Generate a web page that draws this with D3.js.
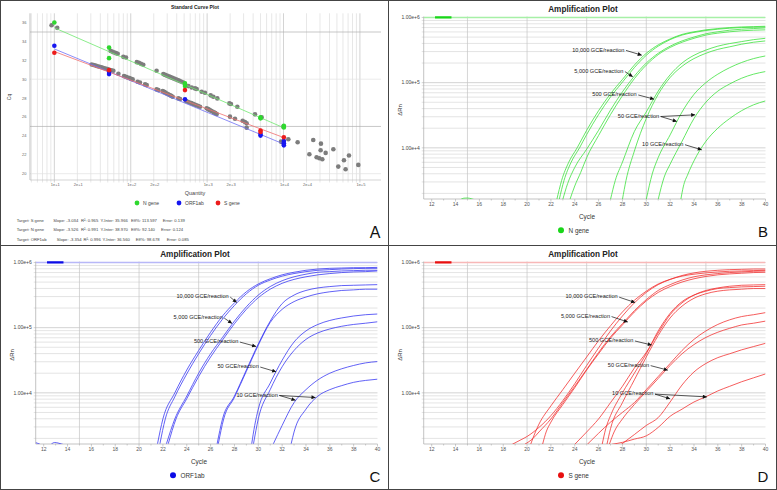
<!DOCTYPE html>
<html><head><meta charset="utf-8">
<script src="https://cdn.jsdelivr.net/npm/d3@7"></script>
<style>body{margin:0;background:#fff}svg{display:block}text{font-family:"Liberation Sans",Arial,sans-serif}</style>
</head><body><svg id="c" width="777" height="490"></svg>
<script>
// ---------------- Panel A data ----------------
const quantityDomain = [4.8, 188800];
const cqDomain = [19.33, 36.98];
const quantityTicks = [10, 20, 100, 200, 1000, 2000, 10000, 20000, 100000];
const quantityTickLabels = ['1e+1','2e+1','1e+2','2e+2','1e+3','2e+3','1e+4','2e+4','1e+5'];
const cqTicks = [20, 22, 24, 26, 28, 30, 32, 34, 36];
const cqGrid = [20, 25, 30, 35];
const targets = ['N gene', 'ORF1ab', 'S gene'];
const slopes = [-3.526, -3.354, -3.034];
const intercepts = [38.970, 36.560, 35.966];
const fitRange = [10, 10000];
const nGeneStd = [[10,36.0],[52,33.35],[52,32.23],[513,29.56],[513,29.27],[5000,25.96],[5000,25.86],[10100,25.08],[10100,24.9]];
const orf1abStd = [[10,33.54],[52,30.79],[52,30.54],[513,27.87],[5000,24.2],[5000,24.03],[10100,23.46],[10100,23.22],[10100,23.0]];
const sGeneStd = [[10,32.8],[52,30.96],[513,28.85],[5000,24.56],[5000,24.42],[10100,23.85]];
const otherSamples = [
 [9.2,35.72],[10.9,35.44],[54.6,33.0],[58,32.9],[61,32.83],[64,32.76],[67.5,32.69],[80,32.37],[86.7,32.3],
 [120,31.81],[128,31.74],[136,31.63],[146,31.53],[218,30.89],
 [267,30.54],[282,30.46],[298,30.38],[315,30.3],[332,30.22],[351,30.14],[370,30.06],[391,29.98],[413,29.9],[436,29.82],[461,29.74],[487,29.66],
 [567,29.27],[628,29.13],[694,29.03],[730,28.96],[848,28.68],[937,28.57],[1112,28.29],[1205,28.15],[1360,27.97],
 [1954,27.44],[2050,27.37],[2483,27.09],[4233,26.28],[5177,25.96],[9940,24.98],
 [30.8,31.56],[32.7,31.5],[34.7,31.44],[36.8,31.38],[39.1,31.32],[41.5,31.26],[44,31.19],[46.7,31.13],[49.6,31.07],[52.6,31.01],[55.8,30.95],[59.2,30.89],
 [68.9,30.58],[81.7,30.33],[86.7,30.26],[91,30.19],[96,30.12],[101,30.05],[106,29.98],[123,29.73],[132,29.66],[154,29.45],[162,29.38],
 [218,28.92],[230,28.85],[262,28.75],[273,28.66],[284,28.58],[296,28.49],[309,28.41],[324,28.32],[339,28.24],[354,28.15],[420,27.97],[442,27.9],
 [528,27.69],[557,27.615],[587,27.54],[619,27.465],[653,27.39],[688,27.315],[726,27.24],[765,27.165],[807,27.09],
 [986,26.92],[1030,26.83],[1076,26.75],[1124,26.66],[1174,26.58],[1226,26.49],[1280,26.41],[1334,26.32],
 [1990,26.04],[2316,25.82],[2918,25.61],[3130,25.47],[3290,25.33],[3290,24.87],[9270,23.39],[9750,23.29],[11560,23.64],[15300,23.32],
 [21800,22.06],[24500,23.57],[27100,21.74],[29400,21.63],[30600,22.48],[30900,23.18],[32200,21.53],[35600,22.2],[44900,22.58],
 [52100,20.75],[61800,21.42],[65000,20.47],[71900,21.92],[95300,20.93]
];
const statsRows = [
 ['Target: S gene','Slope: -3.034','R\u00b2: 0.965','Y-Inter: 35.966','Eff%: 113.597','Error: 0.139'],
 ['Target: N gene','Slope: -3.526','R\u00b2: 0.991','Y-Inter: 38.970','Eff%: 92.140','Error: 0.124'],
 ['Target: ORF1ab','Slope: -3.354','R\u00b2: 0.996','Y-Inter: 36.560','Eff%: 98.678','Error: 0.085']
];

// ---------------- Amplification data ----------------
const cycleDomain = [11.33, 40];
const deltaRnDomain = [1641, 1035000];
const cycleTicks = [12,14,16,18,20,22,24,26,28,30,32,34,36,38,40];
const cycleGrid = [15,20,25,30,35];
const deltaRnTicks = [1e4, 1e5, 1e6];
const deltaRnTickLabels = ['1.00e+4','1.00e+5','1.00e+6'];
const thresholdValue = 1e6;
const thresholdBar = [12.28, 13.66];

const nGeneCurves = [
 [[22.5,1620],[22.9,3160],[23.5,6030],[24.2,10000],[25,18600],[26,37200],[27,67600],[28,112000],[29,186000],[30,282000],[31,380000],[32,468000],[33,550000],[34,603000],[35,646000],[36,676000],[37,700000],[38,716000],[39,724000],[40,733000]],
 [[22.7,1620],[23.1,3160],[23.7,6030],[24.4,10000],[25,16000],[26,32400],[27,60300],[28,102000],[29,170000],[30,263000],[31,363000],[32,457000],[33,537000],[34,589000],[35,631000],[36,661000],[37,684000],[38,700000],[39,708000],[40,716000]],
 [[23.0,1620],[23.4,2820],[24,5010],[25,9550],[26,18600],[27,38000],[28,72400],[29,126000],[30,200000],[31,282000],[32,363000],[33,437000],[34,501000],[35,562000],[36,603000],[37,638000],[38,661000],[39,676000],[40,692000]],
 [[23.6,1620],[24,2600],[24.5,4200],[25,7080],[26,15500],[27,32400],[28,63100],[29,115000],[30,186000],[31,269000],[32,347000],[33,417000],[34,479000],[35,537000],[36,575000],[37,603000],[38,625000],[39,638000],[40,646000]],
 [[27.0,1620],[27.4,3160],[28,6030],[29,17800],[30,35500],[31,74100],[32,132000],[33,200000],[34,263000],[35,316000],[36,363000],[37,398000],[38,427000],[39,457000],[40,479000]],
 [[28.0,1620],[28.3,3160],[29,8910],[30,28200],[31,66100],[32,120000],[33,178000],[34,234000],[35,282000],[36,324000],[37,355000],[38,389000],[39,417000],[40,437000]],
 [[30.0,1620],[30.5,3980],[31,7080],[32,15800],[33,35500],[34,66100],[35,100000],[36,135000],[37,170000],[38,204000],[39,234000],[40,257000]],
 [[31.0,1620],[31.5,3550],[32,5620],[33,12600],[34,28200],[35,50100],[36,74100],[37,95500],[38,117000],[39,135000],[40,148000]],
 [[32.9,1620],[33.1,2510],[33.5,3980],[34,6310],[35,12600],[36,20000],[37,28200],[38,37200],[39,45700],[40,52500]]
];
const nGeneNoise = [[[14.4,1600],[14.7,1690],[15.0,1700],[15.3,1660],[15.6,1600]]];

const orf1abCurves = [
 [[21.55,1660],[22,3980],[23,10000],[24,22400],[25,44700],[26,85100],[27,151000],[28,240000],[29,355000],[30,468000],[31,562000],[32,646000],[33,708000],[34,759000],[35,794000],[36,813000],[37,822000],[38,832000],[39,832000],[40,841000]],
 [[21.75,1660],[22.2,3980],[23,8710],[24,19500],[25,39800],[26,75900],[27,135000],[28,219000],[29,331000],[30,447000],[31,537000],[32,617000],[33,676000],[34,724000],[35,759000],[36,776000],[37,794000],[38,804000],[39,813000],[40,813000]],
 [[22.3,1660],[23,3980],[24,8910],[25,20000],[26,39800],[27,70800],[28,126000],[29,209000],[30,316000],[31,427000],[32,525000],[33,603000],[34,661000],[35,708000],[36,724000],[37,741000],[38,750000],[39,759000],[40,759000]],
 [[22.45,1660],[23.1,3980],[24,8130],[25,17800],[26,35500],[27,64600],[28,115000],[29,191000],[30,288000],[31,389000],[32,479000],[33,550000],[34,603000],[35,646000],[36,676000],[37,700000],[38,716000],[39,724000],[40,741000]],
 [[26.55,1660],[27,3980],[28,8910],[29,22400],[30,56200],[31,126000],[32,234000],[33,316000],[34,372000],[35,407000],[36,427000],[37,442000],[38,447000],[39,452000],[40,457000]],
 [[26.65,1660],[27.1,3980],[28,8510],[29,21400],[30,53700],[31,120000],[32,191000],[33,251000],[34,295000],[35,331000],[36,355000],[37,372000],[38,380000],[39,389000],[40,389000]],
 [[29.45,1660],[29.7,3160],[30,5620],[31,14100],[32,31600],[33,60300],[34,89100],[35,112000],[36,129000],[37,141000],[38,151000],[39,158000],[40,162000]],
 [[29.6,1660],[30,3980],[31,11200],[32,25100],[33,44700],[34,66100],[35,83200],[36,95500],[37,105000],[38,112000],[39,117000],[40,123000]],
 [[31.27,1660],[32,3160],[33,7080],[34,11200],[35,15800],[36,20000],[37,23400],[38,26300],[39,28800],[40,30200]],
 [[32.76,1660],[33,2510],[34,5620],[35,8910],[36,11200],[37,12900],[38,14500],[39,15500],[40,16200]]
];
const orf1abNoise = [[[11.33,1720],[11.5,1680],[11.7,1620]], [[12.6,1600],[12.9,1730],[13.2,1700],[13.5,1640],[13.7,1600]]];

const sGeneCurves = [
 [[18.75,1620],[19.5,1910],[20,2140],[21,2950],[22,4470],[23,7590],[24,13800],[25,26300],[26,49000],[27,89100],[28,151000],[29,240000],[30,347000],[31,457000],[32,550000],[33,631000],[34,692000],[35,733000],[36,759000],[37,776000],[38,785000],[39,794000],[40,794000]],
 [[20.3,1620],[20.7,2510],[21,3310],[22,6310],[23,11200],[24,20000],[25,35500],[26,63100],[27,107000],[28,174000],[29,263000],[30,363000],[31,468000],[32,550000],[33,617000],[34,661000],[35,692000],[36,716000],[37,733000],[38,741000],[39,750000],[40,759000]],
 [[19.8,1620],[20.5,2000],[21,2510],[22,3980],[23,7080],[24,12600],[25,22900],[26,41700],[27,72400],[28,115000],[29,182000],[30,269000],[31,372000],[32,457000],[33,537000],[34,603000],[35,646000],[36,676000],[37,700000],[38,716000],[39,733000],[40,741000]],
 [[21.3,1620],[21.6,2510],[22,3550],[23,6610],[24,12000],[25,22400],[26,39800],[27,69200],[28,110000],[29,174000],[30,257000],[31,347000],[32,427000],[33,501000],[34,562000],[35,610000],[36,646000],[37,668000],[38,684000],[39,700000],[40,708000]],
 [[24,1620],[25,2510],[26,3980],[27,7080],[28,12600],[29,24000],[30,41700],[31,83200],[32,158000],[33,240000],[34,316000],[35,372000],[36,407000],[37,432000],[38,447000],[39,452000],[40,457000]],
 [[26.3,1620],[26.6,2820],[27,4470],[28,10000],[29,20000],[30,39800],[31,89100],[32,166000],[33,251000],[34,316000],[35,363000],[36,398000],[37,412000],[38,422000],[39,427000],[40,432000]],
 [[26.7,1620],[27,2820],[28,7080],[29,15800],[30,35500],[31,75900],[32,141000],[33,214000],[34,282000],[35,331000],[36,363000],[37,380000],[38,389000],[39,398000],[40,398000]],
 [[25.05,1620],[26,2400],[27,3550],[28,5010],[29,7080],[30,11200],[31,17800],[32,28200],[33,44700],[34,66100],[35,89100],[36,112000],[37,132000],[38,148000],[39,158000],[40,170000]],
 [[26.9,1620],[27.3,2510],[28,3980],[29,6610],[30,10500],[31,16600],[32,26300],[33,39800],[34,55000],[35,70800],[36,85100],[37,97700],[38,110000],[39,117000],[40,126000]],
 [[27.9,1620],[29,2290],[30,3160],[31,4170],[32,7240],[33,13200],[34,20900],[35,28200],[36,34700],[37,39800],[38,45700],[39,51300],[40,57500]],
 [[27.1,1620],[28,1740],[29,1950],[30,2190],[31,2950],[32,4370],[33,5620],[34,7240],[35,8710],[36,10700],[37,12600],[38,14800],[39,17000],[40,19500]]
];
const sGeneNoise = [];

const dilutionLabels = ['10,000 GCE/reaction','5,000 GCE/reaction','500 GCE/reaction','50 GCE/reaction','10 GCE/reaction'];
const nGeneNotes = [[28.17,319000,[[29.62,264000]]],[28.08,151000,[[28.87,123000]]],[29.2,66100,[[30.66,55800]]],[31.08,30900,[[34.1,32100],[32.56,25400]]],[33.12,11400,[[34.66,9310]]]];
const orf1abNotes = [[27.52,301000,[[28.19,243000]]],[27.02,143000,[[27.8,116000]]],[28.33,61400,[[29.82,51400]]],[30.04,25400,[[31.5,21000]]],[31.64,9310,[[33.12,7710],[34.8,8470]]]];
const sGeneNotes = [[27.6,300000,[[29.06,243000]]],[26.96,151000,[[28.45,122000]]],[28.92,63800,[[30.46,54100]]],[30.24,26700,[[31.81,22300]]],[30.6,9770,[[32.0,8090],[35.08,8670]]]];

// ---------------- Drawing ----------------
const svg = d3.select('#c');
const defs = svg.append('defs');
defs.append('marker').attr('id','arr').attr('viewBox','0 0 10 10').attr('refX',10).attr('refY',5)
  .attr('markerWidth',5).attr('markerHeight',4).attr('markerUnits','userSpaceOnUse').attr('orient','auto')
  .append('path').attr('d','M0,0L10,5L0,10Z').attr('fill','#111');

// borders
svg.append('rect').attr('x',0.5).attr('y',0.5).attr('width',776).attr('height',489).attr('fill','none').attr('stroke','#444');
svg.append('line').attr('x1',388.5).attr('x2',388.5).attr('y1',0).attr('y2',490).attr('stroke','#444');
svg.append('line').attr('x1',0).attr('x2',777).attr('y1',245.5).attr('y2',245.5).attr('stroke','#444');

// ---- Panel A ----
(function(){
  const g = svg.append('g');
  const L=30,R=381,T=13.3,B=180;
  const x = d3.scaleLog().domain(quantityDomain).range([L,R]);
  const y = d3.scaleLinear().domain(cqDomain).range([B,T]);
  g.append('text').attr('x',195).attr('y',9).attr('text-anchor','middle').attr('font-size',5).attr('font-weight','bold').attr('fill','#222').text('Standard Curve Plot');
  const xt = x.ticks();
  g.selectAll('.vg').data(xt).join('line').attr('x1',d=>x(d)).attr('x2',d=>x(d)).attr('y1',T).attr('y2',B+2.5)
    .attr('stroke',d=>Math.abs(Math.log10(d)%1)<1e-9?'#b5b5b5':'#d6d6d6').attr('stroke-width',0.6);
  g.selectAll('.hg').data(cqGrid).join('line').attr('x1',L).attr('x2',R).attr('y1',d=>y(d)).attr('y2',d=>y(d))
    .attr('stroke',d=>d%10===5?'#b0b0b0':'#e2e2e2').attr('stroke-width',0.7);
  g.append('line').attr('x1',L).attr('x2',L).attr('y1',T).attr('y2',B).attr('stroke','#999').attr('stroke-width',0.6);
  g.append('line').attr('x1',L).attr('x2',R).attr('y1',B).attr('y2',B).attr('stroke','#bbb').attr('stroke-width',0.6);
  g.selectAll('.yl').data(cqTicks).join('text').attr('x',L-3.5).attr('y',d=>y(d)+1.4).attr('text-anchor','end').attr('font-size',4).attr('fill','#666').text(d=>d);
  g.selectAll('.xl').data(quantityTicks).join('text').attr('x',d=>x(d)+1).attr('y',B+5.5).attr('text-anchor','middle').attr('font-size',4).attr('fill','#666').text((d,i)=>quantityTickLabels[i]);
  g.append('text').attr('x',195).attr('y',194.5).attr('text-anchor','middle').attr('font-size',5.5).attr('fill','#444').text('Quantity');
  g.append('text').attr('transform','translate(11,97) rotate(-90)').attr('text-anchor','middle').attr('font-size',5).attr('fill','#444').text('Cq');
  g.selectAll('.gp').data(otherSamples).join('circle').attr('cx',d=>x(d[0])).attr('cy',d=>y(d[1])).attr('r',2.3).attr('fill','#7d7d7d');
  const lineCols = ['#70e870','#6f6ff5','#f07070'];
  const ptCols = ['#2fd82f','#1616f0','#ec1c1c'];
  const stdSets = [nGeneStd, orf1abStd, sGeneStd];
  targets.forEach((t,i)=>{
    const pts = fitRange.map(q=>[q, intercepts[i]+slopes[i]*Math.log10(q)]);
    g.append('line').attr('x1',x(pts[0][0])).attr('y1',y(pts[0][1])).attr('x2',x(pts[1][0])).attr('y2',y(pts[1][1]))
      .attr('stroke',lineCols[i]).attr('stroke-width',0.8);
  });
  targets.forEach((t,i)=>{
    g.selectAll('.sp'+i).data(stdSets[i]).join('circle').attr('cx',d=>x(d[0])).attr('cy',d=>y(d[1])).attr('r',2.3).attr('fill',ptCols[i]);
  });
  const legX = [137,179,218];
  targets.forEach((t,i)=>{
    g.append('circle').attr('cx',legX[i]).attr('cy',203).attr('r',2.4).attr('fill',ptCols[i]);
    g.append('text').attr('x',legX[i]+6).attr('y',204.8).attr('font-size',5).attr('fill','#444').text(t);
  });
  const colX = [[16.7,53.3,81,100.5,131,162.7],[16.7,53.3,81,100.5,131,161],[16.7,56.7,83.5,102.5,135.7,166.7]];
  const rowY = [222.3,231.3,240.5];
  statsRows.forEach((row,r)=>{
    row.forEach((s,c)=>{
      g.append('text').attr('x',colX[r][c]).attr('y',rowY[r]).attr('font-size',4.2).attr('fill','#444').text(s);
    });
  });
  g.append('text').attr('x',375).attr('y',237.5).attr('text-anchor','middle').attr('font-size',16).attr('fill','#111').text('A');
})();

// ---- Amplification panels ----
function ampPanel(ox, oy, curves, noise, notes, color, light, dark, legendLabel, letter, id){
  const g = svg.append('g').attr('transform',`translate(${ox},${oy})`);
  const L=35.7,R=377.5,T=16.5,B=199;
  const x = d3.scaleLinear().domain(cycleDomain).range([L,R]);
  const y = d3.scaleLog().domain(deltaRnDomain).range([B,T]);
  g.append('text').attr('x',195).attr('y',12.3).attr('text-anchor','middle').attr('font-size',8.2).attr('font-weight','bold').attr('fill','#222').text('Amplification Plot');
  const yt = y.ticks();
  g.selectAll('.hg').data(yt).join('line').attr('x1',L-2).attr('x2',R).attr('y1',d=>y(d)).attr('y2',d=>y(d))
    .attr('stroke',d=>Math.abs(Math.log10(d)%1)<1e-9?'#c0c0c0':'#d8d8d8').attr('stroke-width',0.7);
  g.selectAll('.vg').data(cycleGrid).join('line').attr('x1',d=>x(d)).attr('x2',d=>x(d)).attr('y1',T).attr('y2',B)
    .attr('stroke','#c4c4c4').attr('stroke-width',0.7);
  g.selectAll('.xt').data(d3.range(12,41)).join('line').attr('x1',d=>x(d)).attr('x2',d=>x(d)).attr('y1',B).attr('y2',d=>B+(d%2===0?2.5:1.5))
    .attr('stroke','#999').attr('stroke-width',0.5);
  g.append('line').attr('x1',L).attr('x2',L).attr('y1',T).attr('y2',B).attr('stroke','#aaa').attr('stroke-width',0.7);
  g.append('line').attr('x1',L).attr('x2',R).attr('y1',B).attr('y2',B).attr('stroke','#aaa').attr('stroke-width',0.7);
  g.selectAll('.xl').data(cycleTicks).join('text').attr('x',d=>x(d)).attr('y',B+7.3).attr('text-anchor','middle').attr('font-size',5).attr('fill','#555').text(d=>d);
  g.selectAll('.yl').data(deltaRnTicks).join('text').attr('x',L-4).attr('y',d=>y(d)+1.7).attr('text-anchor','end').attr('font-size',5).attr('fill','#444').text((d,i)=>deltaRnTickLabels[i]);
  const clip = defs.append('clipPath').attr('id','clip'+id);
  clip.append('rect').attr('x',L).attr('y',T-1).attr('width',R-L).attr('height',B-T+1);
  const pg = g.append('g').attr('clip-path',`url(#clip${id})`);
  pg.append('line').attr('x1',L).attr('x2',R).attr('y1',y(thresholdValue)).attr('y2',y(thresholdValue)).attr('stroke',light).attr('stroke-width',1.4);
  pg.append('line').attr('x1',x(thresholdBar[0])).attr('x2',x(thresholdBar[1])).attr('y1',y(thresholdValue)).attr('y2',y(thresholdValue)).attr('stroke',dark).attr('stroke-width',2.2);
  const line = d3.line().x(d=>x(d[0])).y(d=>y(d[1])).curve(d3.curveMonotoneX);
  pg.selectAll('.cv').data(curves.concat(noise)).join('path').attr('d',line).attr('fill','none').attr('stroke',color).attr('stroke-width',0.8);
  notes.forEach((n,i)=>{
    const tx = x(n[0]), ty = y(n[1]);
    g.append('text').attr('x',tx).attr('y',ty+1.9).attr('text-anchor','end').attr('font-size',5.6).attr('fill','#222').text(dilutionLabels[i]);
    n[2].forEach(tp=>{
      g.append('line').attr('x1',tx+1.5).attr('y1',ty+0.6).attr('x2',x(tp[0])).attr('y2',y(tp[1]))
        .attr('stroke','#111').attr('stroke-width',0.7).attr('marker-end','url(#arr)');
    });
  });
  g.append('text').attr('x',199).attr('y',219).attr('text-anchor','middle').attr('font-size',6.4).attr('fill','#333').text('Cycle');
  g.append('text').attr('transform','translate(13.5,110) rotate(-90)').attr('text-anchor','middle').attr('font-size',6).attr('fill','#333').text('\u0394Rn');
  g.append('circle').attr('cx',173).attr('cy',230.3).attr('r',3).attr('fill',dark);
  g.append('text').attr('x',180.5).attr('y',232.6).attr('font-size',6.4).attr('fill','#333').text(legendLabel);
  g.append('text').attr('x',375).attr('y',236.5).attr('text-anchor','middle').attr('font-size',15).attr('fill','#111').text(letter);
}
ampPanel(388, 0, nGeneCurves, nGeneNoise, nGeneNotes, '#3ee23e', '#a6f0a6', '#19d619', 'N gene', 'B', 'b');
ampPanel(0, 245, orf1abCurves, orf1abNoise, orf1abNotes, '#3a3af4', '#b8b8f8', '#0b0be6', 'ORF1ab', 'C', 'c');
ampPanel(388, 245, sGeneCurves, sGeneNoise, sGeneNotes, '#f23434', '#f8b8b8', '#e80f0f', 'S gene', 'D', 'd');
</script></body></html>
